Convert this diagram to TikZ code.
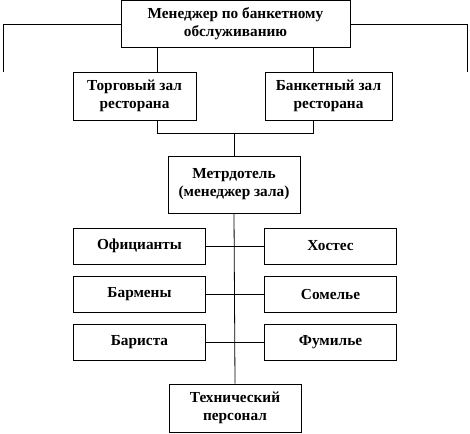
\documentclass[tikz,border=0pt]{standalone}
\usepackage{fontspec}
\setmainfont{Liberation Serif}
\usepackage{tikz}
\usetikzlibrary{positioning,calc}
\tikzstyle{block}=[draw, fill=white, rectangle, align=center, inner sep=2pt, font=\fontsize{15.3}{18}\selectfont\bfseries]
\tikzstyle{wide}=[block, minimum width=132pt, minimum height=36pt]
\tikzstyle{link}=[line width=0.8pt]

\begin{document}
\begin{tikzpicture}[x=1pt, y=-1pt, line width=0.8pt]
                        \useasboundingbox (0,0) rectangle (470,433);
                        \node [block, minimum width=229pt, minimum height=47pt] (boss) at (235.5,24) {Менеджер по банкетному\\обслуживанию};
                        \node [block, minimum width=123pt, minimum height=48pt] (hall) at (134.5,96) {Торговый зал\\ресторана};
                        \node [block, minimum width=127pt, minimum height=48pt] (banq) at (328.5,96) {Банкетный зал\\ресторана};
                        \node [block, minimum width=132pt, minimum height=57pt] (maitre) at (234,184.5) {Метрдотель\\(менеджер зала)};
                        \node [wide] (waiters) at (139.5,246) {Официанты};
                        \node [wide] (hostess) at (330.5,246) {Хостес};
                        \node [wide] (barmen) at (139.5,294.5) {Бармены};
                        \node [wide] (somm) at (330.5,294.5) {Сомелье};
                        \node [wide] (barista) at (139.5,342) {Бариста};
                        \node [wide] (fumi) at (330.5,342) {Фумилье};
                        \node [block, minimum width=132pt, minimum height=48pt] (tech) at (235,408) {Технический\\персонал};
                        % free ends and branch points
                        \coordinate (lend) at (3,72);
                        \coordinate (rend) at (467,72);
                        \coordinate (hx) at (157,133);
                        \coordinate (bx) at (313,133);
                        \coordinate (mx) at (234,133);
                        \draw[link] (boss.west) -| (lend);
                        \draw[link] (boss.east) -| (rend);
                        \draw[link] (boss.south -| hx) -- (hall.north -| hx);
                        \draw[link] (boss.south -| bx) -- (banq.north -| bx);
                        \draw[link] (hall.south -| hx) -- (hx) -- (bx) -- (banq.south -| bx);
                        \draw[link] (mx) -- (maitre.north -| mx);
                        \draw[link] (maitre.south) -- (tech.north);
                        \draw[link] (waiters.east) -- (hostess.west);
                        \draw[link] (barmen.east) -- (somm.west);
                        \draw[link] (barista.east) -- (fumi.west);
                    \end{tikzpicture}
\end{document}
